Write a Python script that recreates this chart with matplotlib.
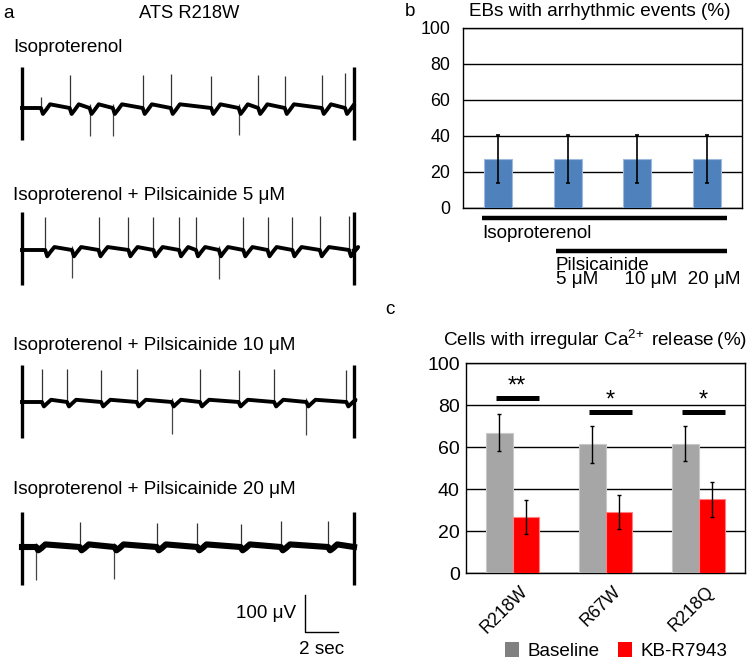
import numpy as np
import matplotlib
matplotlib.use('Agg')
import matplotlib.pyplot as plt
import matplotlib.transforms as mtransforms
from matplotlib.patches import Patch

plt.rcParams['font.family'] = ['Liberation Sans', 'DejaVu Sans']
plt.rcParams['mathtext.fontset'] = 'custom'
plt.rcParams['mathtext.rm'] = 'Liberation Sans'
plt.rcParams['mathtext.it'] = 'Liberation Sans:italic'

W, H = 750, 659
FS = 13.6

# --- panel a: event times (s) and spike amplitudes (uV) ---
trace_labels = ['Isoproterenol',
                'Isoproterenol + Pilsicainide 5 \u03bcM',
                'Isoproterenol + Pilsicainide 10 \u03bcM',
                'Isoproterenol + Pilsicainide 20 \u03bcM']
up_times = [
    [1.14, 2.87, 7.27, 8.96, 11.40, 14.23, 15.83, 18.06, 19.46],
    [1.40, 4.61, 6.41, 7.92, 9.46, 10.48, 13.33, 14.79, 16.29, 17.94, 19.70],
    [1.20, 2.71, 4.77, 6.91, 10.72, 13.05, 15.19, 19.54],
    [3.47, 8.12, 10.56, 13.17, 15.59, 18.44],
]
up_amps = [
    [31, 90, 90, 93, 87, 90, 87, 90, 95],
    [90, 88, 88, 88, 88, 90, 88, 90, 90, 92, 92],
    [90, 90, 86, 88, 90, 86, 88, 87],
    [68, 66, 66, 63, 69, 69],
]
down_times = [
    [4.07, 5.47, 13.05],
    [3.01, 11.86],
    [9.02, 17.13],
    [0.86, 5.57],
]
down_amps = [
    [-75, -75, -72],
    [-77, -79],
    [-87, -90],
    [-90, -86],
]
dip_depth = [16, 17, 12, 9]         # uV, dip right after each event
overshoot = [10, 8, 6, 7]           # uV, rebound after the dip
end_bar_top = [111, 103, 100, 95]
end_bar_bottom = [-86, -95, -97, -103]
trace_base_px = [108, 250, 402, 547]
trace_lw = [2.8, 2.8, 2.8, 4.4]
label_y_px = [47, 195, 345, 490]
record_len = 20.0

# --- panel b ---
b_values = [27.3, 27.3, 27.3, 27.3]
b_err = [13.4, 13.4, 13.4, 13.4]
b_conc = ['5 \u03bcM', '10 \u03bcM', '20 \u03bcM']

# --- panel c ---
c_groups = ['R218W', 'R67W', 'R218Q']
c_baseline = [66.7, 61.4, 61.6]
c_baseline_err = [8.8, 8.8, 8.5]
c_kb = [26.6, 28.9, 35.2]
c_kb_err = [8.1, 8.1, 8.3]
c_sig = ['**', '*', '*']
c_sig_level = [83.3, 76.7, 76.7]


def ax_px(left, top, width, height):
    return fig.add_axes([left / W, 1 - (top + height) / H, width / W, height / H])


def fig_xy(x, y):
    return x / W, 1 - y / H


fig = plt.figure(figsize=(W / 100, H / 100), dpi=100)

# ---------------- panel a ----------------
px_per_s = 332 / 20.0
px_per_uv = 37 / 100.0
x0_px = 22
for i in range(4):
    ax_h = 100
    ylo = -140
    yhi = ylo + ax_h / px_per_uv
    top_px = trace_base_px[i] - yhi * px_per_uv
    xlo, xhi = -0.4, 20.4
    ax = ax_px(x0_px + xlo * px_per_s, top_px, (xhi - xlo) * px_per_s, ax_h)
    ax.set_xlim(xlo, xhi)
    ax.set_ylim(ylo, yhi)
    ax.axis('off')

    events = sorted(up_times[i] + down_times[i])
    tx, ty = [0.0], [0.0]
    for te in events:
        tx += [te, te + 0.12, te + 0.3, te + 0.55]
        ty += [0.0, -dip_depth[i], -0.35 * dip_depth[i], overshoot[i]]
    tx.append(record_len)
    ty.append(0.0)
    ax.vlines(up_times[i], 0, up_amps[i], color='#333333', lw=0.9)
    ax.vlines(down_times[i], 12, down_amps[i], color='#444444', lw=0.9)
    ax.plot(tx, ty, color='black', lw=trace_lw[i], solid_joinstyle='round')
    ax.vlines([0, record_len], end_bar_bottom[i], end_bar_top[i], color='black', lw=2.4)
    fig.text(*fig_xy(13, label_y_px[i]), trace_labels[i], fontsize=FS, va='center', ha='left')

fig.text(*fig_xy(3, 13), 'a', fontsize=FS, va='center', ha='left')
fig.text(*fig_xy(189, 13), 'ATS R218W', fontsize=13.2, va='center', ha='center')

# scale bar: 100 uV / 2 sec, drawn in the same data units as the traces
sb = ax_px(300, 585, 50, 55)
sb.set_xlim(-5 / px_per_s, 45 / px_per_s)
sb.set_ylim(-8 / px_per_uv, 47 / px_per_uv)
sb.axis('off')
sb.plot([0, 0, 2], [100, 0, 0], color='black', lw=1.0)
fig.text(*fig_xy(296, 614), '100 \u03bcV', fontsize=FS, va='center', ha='right')
fig.text(*fig_xy(322, 649), '2 sec', fontsize=FS, va='center', ha='center')

# ---------------- panel b ----------------
axb = ax_px(463, 28, 279, 180)
xb = np.arange(len(b_values))
axb.bar(xb, b_values, width=0.4, color='#4F81BD', edgecolor='#9DB9DE', lw=0.8, zorder=3)
axb.errorbar(xb, b_values, yerr=b_err, fmt='none', ecolor='black', elinewidth=1.2,
             capsize=1.5, capthick=1.2, zorder=4)
axb.set_xlim(-0.5, 3.5)
axb.set_ylim(0, 100)
axb.set_yticks(np.arange(0, 101, 20))
axb.set_xticks([])
axb.yaxis.grid(True, color='black', lw=1.0)
axb.set_axisbelow(True)
axb.tick_params(axis='y', length=0, pad=9, labelsize=12.8)
for s in axb.spines.values():
    s.set_color('black')
    s.set_linewidth(1.0)
fig.text(*fig_xy(405, 11), 'b', fontsize=FS, va='center', ha='left')
fig.text(*fig_xy(600, 11), 'EBs with arrhythmic events (%)', fontsize=FS, va='center', ha='center')

# treatment bars below panel b
axb.plot([-0.23, 3.29], [-5.6, -5.6], color='black', lw=3.2, clip_on=False, solid_capstyle='butt')
axb.text(-0.23, -14.0, 'Isoproterenol', fontsize=FS, va='center', ha='left', clip_on=False)
axb.plot([0.83, 3.29], [-23.9, -23.9], color='black', lw=3.2, clip_on=False, solid_capstyle='butt')
conc_line = b_conc[0] + '     ' + b_conc[1] + '  ' + b_conc[2]
axb.text(0.83, -42.0, 'Pilsicainide\n' + conc_line, fontsize=FS, va='baseline', ha='left',
         linespacing=0.7, clip_on=False)

# ---------------- panel c ----------------
axc = ax_px(466, 363, 279, 210)
xc = np.arange(len(c_groups))
bw = 0.28
axc.bar(xc - bw / 2, c_baseline, width=bw, color='#A6A6A6', edgecolor='#C8C8C8', lw=0.8, zorder=3)
axc.bar(xc + bw / 2, c_kb, width=bw, color='#FF0000', edgecolor='#FF8080', lw=0.8, zorder=3)
axc.errorbar(xc - bw / 2, c_baseline, yerr=c_baseline_err, fmt='none', ecolor='black',
             elinewidth=1.0, capsize=1.5, capthick=1.0, zorder=4)
axc.errorbar(xc + bw / 2, c_kb, yerr=c_kb_err, fmt='none', ecolor='black',
             elinewidth=1.0, capsize=1.5, capthick=1.0, zorder=4)
for g in range(len(c_groups)):
    axc.plot([g - 0.18, g + 0.285], [c_sig_level[g]] * 2, color='black', lw=3.6,
             solid_capstyle='butt', zorder=5)
    axc.text(g + 0.05, c_sig_level[g] + 5.5, c_sig[g], fontsize=17, ha='center', va='center', zorder=5)
axc.set_xlim(-0.5, 2.5)
axc.set_ylim(0, 100)
axc.set_yticks(np.arange(0, 101, 20))
axc.set_xticks(xc)
axc.set_xticklabels([])
# rotated category labels, Excel style: right end sits a little right of / below the tick
offset = mtransforms.ScaledTranslation(12.5 / 100, -16 / 100, fig.dpi_scale_trans)
for g, name in enumerate(c_groups):
    axc.text(g, 0, name, transform=axc.transData + offset, rotation=45, ha='right', va='center',
             rotation_mode='anchor', fontsize=12.8, clip_on=False)
axc.yaxis.grid(True, color='black', lw=1.0)
axc.set_axisbelow(True)
axc.tick_params(axis='y', length=0, pad=4.5, labelsize=14)
axc.tick_params(axis='x', length=0)
for s in axc.spines.values():
    s.set_color('black')
    s.set_linewidth(1.0)
fig.text(*fig_xy(385, 310), 'c', fontsize=FS, va='center', ha='left')
fig.text(*fig_xy(595, 340), 'Cells with irregular Ca$^{2\\!+}$ release\u2009(%)', fontsize=FS,
         va='center', ha='center')

handles = [Patch(facecolor='#808080', edgecolor='none', label='Baseline'),
           Patch(facecolor='#FF0000', edgecolor='none', label='KB-R7943')]
fig.legend(handles=handles, loc='center left', bbox_to_anchor=fig_xy(505, 651), ncol=2,
           frameon=False, fontsize=FS, handlelength=0.75, handleheight=0.8,
           handletextpad=0.45, columnspacing=0.95, borderpad=0, borderaxespad=0)

fig.savefig('out.png', dpi=100)
